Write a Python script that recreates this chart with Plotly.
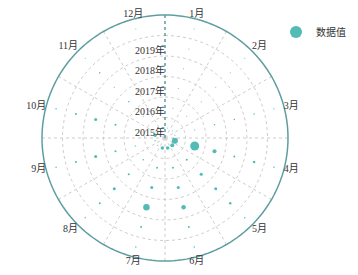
import plotly.graph_objects as go

months = ['1月', '2月', '3月', '4月', '5月', '6月', '7月', '8月', '9月', '10月', '11月', '12月']
years = ['2015年', '2016年', '2017年', '2018年', '2019年', '']
year_labels = ['2015年', '2016年', '2017年', '2018年', '2019年']

# values per year (one per month)
v2015 = [1.0, 1.0, 1.0, 6.0, 4.0, 3.5, 3.5, 1.2, 1.2, 3.5, 1.0, 1.0]
v2016 = [1.0, 1.0, 1.2, 9.0, 2.0, 2.0, 2.0, 1.5, 1.2, 1.2, 1.0, 1.0]
v2017 = [1.0, 1.0, 1.5, 4.0, 3.2, 3.0, 3.0, 2.0, 2.0, 2.0, 1.5, 1.0]
v2018 = [1.0, 1.0, 1.5, 2.0, 3.0, 4.5, 6.5, 3.0, 3.0, 3.0, 1.2, 1.0]
v2019 = [1.0, 1.0, 1.5, 2.5, 2.5, 2.0, 2.0, 2.0, 2.0, 2.0, 1.5, 1.0]
v2020 = [1.0, 1.0, 1.2, 1.5, 1.5, 1.5, 1.5, 1.5, 1.5, 1.5, 1.0, 1.0]
values = [v2015, v2016, v2017, v2018, v2019, v2020]

TEAL = '#0a9e96'
AXIS = '#5f9ea0'
GRID = '#cccccc'
FONT = 'Liberation Serif, Noto Sans CJK SC, serif'
FS = 10

W, H = 358, 275
OFF = 8          # page body margin offset
R_OUT = 123      # outer circle radius in px
CX, CY = 165, 138  # desired centre on screen

nm = len(months)
ny = len(years)
step = 360 / nm
r_max = 6.3      # radial range, leaves room for month labels
R_TOT = R_OUT * r_max / ny


def label_pos(a):
    # text placement around the circle depending on the angle
    if a < 30 or a > 330:
        return 'top center'
    if a < 60:
        return 'top right'
    if a < 120:
        return 'middle right'
    if a < 150:
        return 'bottom right'
    if a < 210:
        return 'bottom center'
    if a < 240:
        return 'bottom left'
    if a < 300:
        return 'middle left'
    return 'top left'


thetas, rs, sizes = [], [], []
for yi, row in enumerate(values):
    for mi, v in enumerate(row):
        thetas.append(step * (mi + 0.5))
        rs.append(yi + 0.5)
        sizes.append(v)

fig = go.Figure()

# spokes at category boundaries
sp_t, sp_r = [], []
for mi in range(1, nm):
    sp_t += [step * mi, step * mi, None]
    sp_r += [0, ny, None]
fig.add_trace(go.Scatterpolar(theta=sp_t, r=sp_r, mode='lines',
                              line=dict(color=GRID, width=1, dash='dot'),
                              hoverinfo='skip', showlegend=False))
# rings at category boundaries
rg_t, rg_r = [], []
for yi in range(1, ny):
    for k in range(0, 361, 3):
        rg_t.append(k)
        rg_r.append(yi)
    rg_t.append(None)
    rg_r.append(None)
fig.add_trace(go.Scatterpolar(theta=rg_t, r=rg_r, mode='lines',
                              line=dict(color=GRID, width=1, dash='dot'),
                              hoverinfo='skip', showlegend=False))
# outer circle (angular axis line)
circ = list(range(0, 361, 2))
fig.add_trace(go.Scatterpolar(theta=circ, r=[ny] * len(circ), mode='lines',
                              line=dict(color=AXIS, width=1.5),
                              hoverinfo='skip', showlegend=False))
# radial axis line (dotted teal)
fig.add_trace(go.Scatterpolar(theta=[0, 0], r=[0, ny], mode='lines',
                              line=dict(color=AXIS, width=1.5, dash='dot'),
                              hoverinfo='skip', showlegend=False))
# radial axis labels
fig.add_trace(go.Scatterpolar(theta=[0] * len(year_labels), r=[i + 0.5 - 0.27 for i in range(len(year_labels))],
                              mode='text', text=year_labels, textposition='middle left',
                              textfont=dict(size=FS, color='#333', family=FONT),
                              hoverinfo='skip', showlegend=False))
# angular labels just outside the circle
ang = [step * (i + 0.5) for i in range(nm)]
fig.add_trace(go.Scatterpolar(theta=ang, r=[ny] * nm,
                              mode='text', text=months, textposition=[label_pos(a) for a in ang],
                              textfont=dict(size=FS, color='#333', family=FONT),
                              cliponaxis=False, hoverinfo='skip', showlegend=False))

fig.add_trace(go.Scatterpolar(theta=thetas, r=rs, mode='markers', name='数据值',
                              marker=dict(color=TEAL, size=sizes, line=dict(width=0)),
                              showlegend=True))

px0, py0 = CX - OFF, CY - OFF
fig.update_layout(
    width=W, height=H,
    margin=dict(l=0, r=0, t=0, b=0),
    paper_bgcolor='white',
    font=dict(family=FONT, size=FS, color='#333'),
    polar=dict(
        domain=dict(x=[(px0 - R_TOT) / W, (px0 + R_TOT) / W],
                    y=[max(0, 1 - (py0 + R_TOT) / H), min(1, 1 - (py0 - R_TOT) / H)]),
        bgcolor='rgba(0,0,0,0)',
        angularaxis=dict(
            type='linear', thetaunit='degrees', rotation=90, direction='clockwise',
            tickmode='array', tickvals=ang,
            showticklabels=False, showgrid=False, ticks='', showline=False,
        ),
        radialaxis=dict(
            range=[0, r_max], angle=90, side='counterclockwise',
            tickmode='array', tickvals=[i + 0.5 for i in range(len(year_labels))],
            showticklabels=False, showgrid=False, showline=False,
            ticks='outside', ticklen=3, tickcolor=AXIS,
        ),
    ),
    legend=dict(x=(276 - OFF) / W, y=1 - (32 - OFF) / H, xanchor='left', yanchor='middle',
                itemsizing='constant', font=dict(size=FS, color='#333', family=FONT),
                bgcolor='rgba(0,0,0,0)'),
)

fig.write_html('out.html')
